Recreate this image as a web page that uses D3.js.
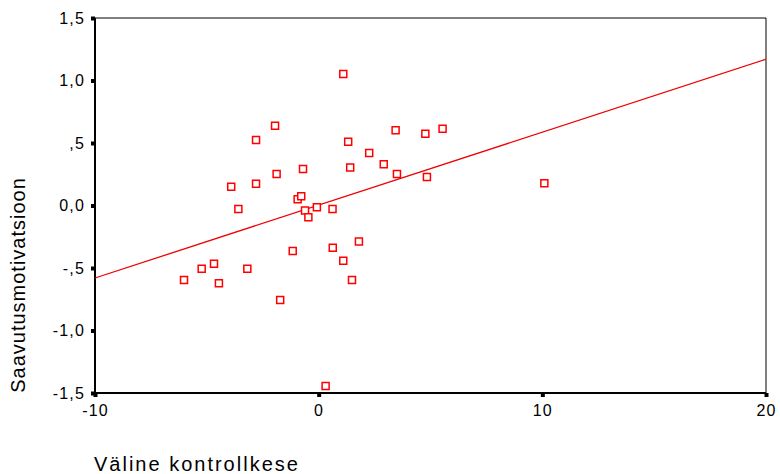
<!DOCTYPE html>
<html>
<head>
<meta charset="utf-8">
<script src="https://cdn.jsdelivr.net/npm/d3@7"></script>
<style>
	body { margin: 0; background: white; }
	text { font-family: "Liberation Sans", Arial, sans-serif; fill: black; }
</style>
</head>
<body>
<div id="chart"></div>
<script>
// data
var xValues = [-6.02, -5.23, -4.68, -4.46, -3.19, -3.91, -3.59, -2.80, -2.80, -1.95,
	-1.88, -1.72, -1.16, -0.70, -0.94, -0.78, -0.61, -0.46, -0.08, 0.62,
	0.63, 1.10, 1.32, 1.41, 1.10, 1.49, 1.80, 2.26, 2.91, 3.44,
	3.50, 4.77, 4.84, 5.54, 0.31, 10.09];
var yValues = [-0.596, -0.506, -0.466, -0.622, -0.506, 0.150, -0.028, 0.174, 0.524, 0.638,
	0.252, -0.756, -0.364, 0.292, 0.050, 0.074, -0.040, -0.094, -0.014, -0.028,
	-0.338, 1.052, 0.510, 0.304, -0.442, -0.596, -0.288, 0.420, 0.330, 0.602,
	0.252, 0.574, 0.228, 0.614, -1.444, 0.178];
var fitX = [-10, 20];
var fitY = [-0.58, 1.17];
var xTicks = [-10, 0, 10, 20];
var xTickLabels = ["-10", "0", "10", "20"];
var yTicks = [1.5, 1.0, 0.5, 0, -0.5, -1.0, -1.5];
var yTickLabels = ["1,5", "1,0", ",5", "0,0", "-,5", "-1,0", "-1,5"];

var margin = { left: 95, right: 14, top: 18, bottom: 81 };
var width = 780 - margin.left - margin.right;
var height = 474 - margin.top - margin.bottom;

var points = xValues.map(function(d, i) {
	return { x: d, y: yValues[i] };
});

var svg = d3.select('#chart')
	.append('svg')
		.attr('width', 780)
		.attr('height', 474);

var g = svg.append('g')
	.attr('transform', 'translate(' + margin.left + ',' + margin.top + ')');

var x = d3.scaleLinear().domain([-10, 20]).range([0, width]);
var y = d3.scaleLinear().domain([-1.5, 1.5]).range([height, 0]);

// frame (top and right)
g.append('line')
	.attr('x1', 0).attr('x2', width)
	.attr('y1', 0).attr('y2', 0)
	.attr('stroke', 'black').attr('stroke-width', 1);
g.append('line')
	.attr('x1', width).attr('x2', width)
	.attr('y1', 0).attr('y2', height)
	.attr('stroke', 'black').attr('stroke-width', 1);

// axes
var yAxis = d3.axisLeft(y)
	.tickValues(yTicks)
	.tickSize(4)
	.tickPadding(6)
	.tickFormat(function(d, i) { return yTickLabels[i]; });
var xAxis = d3.axisBottom(x)
	.tickValues(xTicks)
	.tickSize(4)
	.tickPadding(8)
	.tickFormat(function(d, i) { return xTickLabels[i]; });

var gy = g.append('g').call(yAxis);
var gx = g.append('g')
	.attr('transform', 'translate(0,' + height + ')')
	.call(xAxis);

[gx, gy].forEach(function(a) {
	a.select('.domain').attr('stroke', 'black').attr('stroke-width', 2);
	a.selectAll('.tick line').attr('stroke', 'black').attr('stroke-width', 4);
	a.selectAll('.tick text')
		.attr('font-size', 16)
		.attr('letter-spacing', 1.2)
		.attr('font-family', '"Liberation Sans", Arial, sans-serif')
		.attr('fill', 'black');
});
gx.select('.domain').attr('d', 'M0,0H' + width);
gy.select('.domain').attr('d', 'M0,0V' + height);

// regression line
g.append('line')
	.attr('x1', x(fitX[0])).attr('y1', y(fitY[0]))
	.attr('x2', x(fitX[1])).attr('y2', y(fitY[1]))
	.attr('stroke', '#ee0000')
	.attr('stroke-width', 1.3);

// markers
g.selectAll('rect.pt')
	.data(points)
	.enter()
	.append('rect')
		.attr('class', 'pt')
		.attr('x', function(d) { return x(d.x) - 3.5; })
		.attr('y', function(d) { return y(d.y) - 3.5; })
		.attr('width', 7)
		.attr('height', 7)
		.attr('fill', 'white')
		.attr('stroke', '#ff0000')
		.attr('stroke-width', 1.5);

// axis titles
svg.append('text')
	.attr('x', 94)
	.attr('y', 471)
	.attr('font-size', 20)
	.attr('letter-spacing', 2)
	.text('Väline kontrollkese');

svg.append('text')
	.attr('transform', 'translate(25,285) rotate(-90)')
	.attr('text-anchor', 'middle')
	.attr('font-size', 20)
	.attr('letter-spacing', 1)
	.text('Saavutusmotivatsioon');
</script>
</body>
</html>
